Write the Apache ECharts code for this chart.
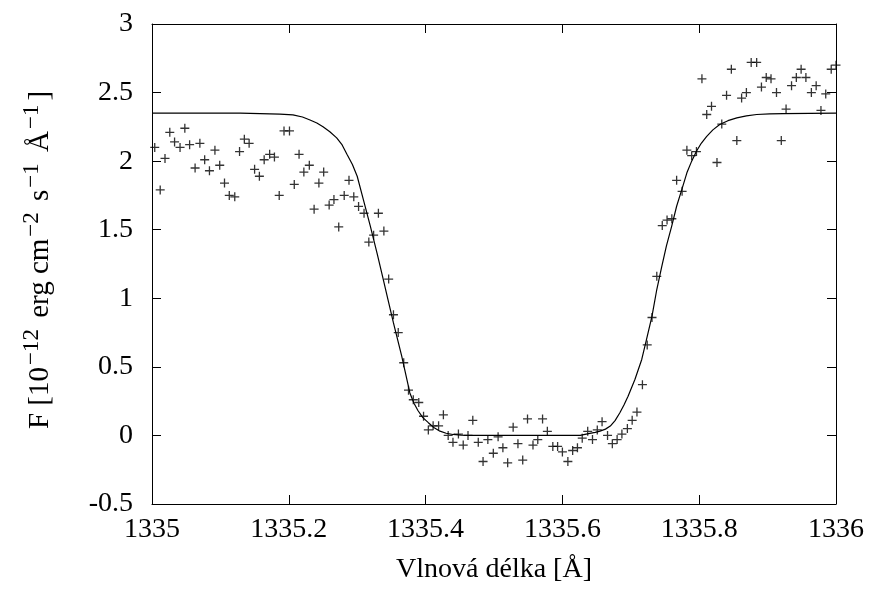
<!DOCTYPE html>
<html>
<head>
<meta charset="utf-8">
<script src="https://cdn.jsdelivr.net/npm/echarts@6/dist/echarts.min.js"></script>
<style>
  html, body { margin: 0; padding: 0; background: #fff; }
  #chart { width: 875px; height: 593px; }
</style>
</head>
<body>
<div id="chart"></div>
<script>
// Observed spectrum: wavelength grid [Å] and flux [1e-12 erg cm^-2 s^-1 Å^-1]
const wavelengths = [
  1335.004, 1335.012, 1335.019, 1335.026, 1335.033, 1335.041, 1335.048, 1335.055, 1335.063, 1335.070,
  1335.077, 1335.084, 1335.092, 1335.099, 1335.106, 1335.113, 1335.121, 1335.128, 1335.135, 1335.142,
  1335.150, 1335.157, 1335.164, 1335.172, 1335.179, 1335.186, 1335.193, 1335.201, 1335.208, 1335.215,
  1335.222, 1335.230, 1335.237, 1335.244, 1335.251, 1335.259, 1335.266, 1335.273, 1335.281, 1335.288,
  1335.295, 1335.302, 1335.310, 1335.317, 1335.324, 1335.331, 1335.339, 1335.346, 1335.353, 1335.360,
  1335.368, 1335.375, 1335.382, 1335.390, 1335.397, 1335.404, 1335.411, 1335.419, 1335.426, 1335.433,
  1335.440, 1335.448, 1335.455, 1335.462, 1335.469, 1335.477, 1335.484, 1335.491, 1335.499, 1335.506,
  1335.513, 1335.520, 1335.528, 1335.535, 1335.542, 1335.549, 1335.557, 1335.564, 1335.571, 1335.578,
  1335.586, 1335.593, 1335.600, 1335.608, 1335.615, 1335.622, 1335.629, 1335.637, 1335.644, 1335.651,
  1335.658, 1335.666, 1335.673, 1335.680, 1335.687, 1335.695, 1335.702, 1335.709, 1335.717, 1335.724,
  1335.731, 1335.738, 1335.746, 1335.753, 1335.760, 1335.767, 1335.775, 1335.782, 1335.789, 1335.796,
  1335.804, 1335.811, 1335.818, 1335.826, 1335.833, 1335.840, 1335.847, 1335.855, 1335.862, 1335.869,
  1335.876, 1335.884, 1335.891, 1335.898, 1335.905, 1335.913, 1335.920, 1335.927, 1335.935, 1335.942,
  1335.949, 1335.956, 1335.964, 1335.971, 1335.978, 1335.985, 1335.993, 1336.000
];
const fluxObserved = [
  2.10, 1.79, 2.02, 2.21, 2.14, 2.10, 2.24, 2.12, 1.95, 2.13,
  2.01, 1.93, 2.08, 1.97, 1.84, 1.75, 1.74, 2.07, 2.16, 2.13,
  1.94, 1.89, 2.01, 2.05, 2.03, 1.75, 2.22, 2.22, 1.83, 2.05,
  1.92, 1.97, 1.65, 1.84, 1.92, 1.68, 1.72, 1.52, 1.75, 1.86,
  1.74, 1.67, 1.62, 1.41, 1.46, 1.62, 1.49, 1.14, 0.88, 0.75,
  0.53, 0.33, 0.26, 0.24, 0.14, 0.04, 0.07, 0.07, 0.15, 0.00,
  -0.05, 0.01, -0.07, 0.00, 0.11, -0.05, -0.19, -0.03, -0.13, -0.01,
  -0.09, -0.20, 0.06, -0.06, -0.18, 0.12, -0.07, -0.03, 0.12, 0.03,
  -0.08, -0.08, -0.12, -0.19, -0.11, -0.09, -0.02, 0.03, -0.03, 0.04,
  0.10, 0.00, -0.06, -0.03, 0.01, 0.05, 0.11, 0.17, 0.37, 0.66,
  0.86, 1.16, 1.53, 1.57, 1.58, 1.86, 1.78, 2.08, 2.04, 2.07,
  2.60, 2.34, 2.40, 1.99, 2.27, 2.48, 2.67, 2.15, 2.46, 2.50,
  2.72, 2.72, 2.54, 2.61, 2.60, 2.50, 2.15, 2.38, 2.55, 2.61,
  2.67, 2.61, 2.50, 2.55, 2.37, 2.49, 2.67, 2.70
];

// Model profile of the absorption line
const modelWavelengths = [
  1335.000, 1335.129, 1335.158, 1335.187, 1335.206, 1335.220, 1335.231, 1335.241, 1335.250, 1335.260,
  1335.270, 1335.278, 1335.285, 1335.293, 1335.300, 1335.309, 1335.319, 1335.329, 1335.338, 1335.345,
  1335.353, 1335.365, 1335.377, 1335.383, 1335.389, 1335.396, 1335.404, 1335.412, 1335.421, 1335.430,
  1335.440, 1335.452, 1335.465, 1335.626, 1335.640, 1335.648, 1335.655, 1335.663, 1335.670, 1335.677,
  1335.684, 1335.690, 1335.696, 1335.706, 1335.716, 1335.723, 1335.731, 1335.738, 1335.745, 1335.752,
  1335.760, 1335.767, 1335.775, 1335.782, 1335.789, 1335.796, 1335.803, 1335.811, 1335.820, 1335.830,
  1335.842, 1335.855, 1335.869, 1335.884, 1335.903, 1335.923, 1336.000
];
const modelFlux = [
  2.350, 2.350, 2.347, 2.343, 2.337, 2.322, 2.300, 2.278, 2.250, 2.214,
  2.170, 2.118, 2.050, 1.975, 1.890, 1.720, 1.530, 1.330, 1.140, 0.990,
  0.820, 0.580, 0.310, 0.235, 0.180, 0.130, 0.093, 0.058, 0.031, 0.016,
  0.007, 0.002, 0.000, 0.000, 0.015, 0.022, 0.031, 0.046, 0.068, 0.108,
  0.165, 0.222, 0.286, 0.408, 0.554, 0.700, 0.870, 1.064, 1.225, 1.380,
  1.530, 1.671, 1.800, 1.915, 2.000, 2.072, 2.130, 2.180, 2.228, 2.267,
  2.295, 2.316, 2.330, 2.340, 2.345, 2.347, 2.350
];

const xTicks = { min: 1335, max: 1336, interval: 0.2 };
const yTicks = { min: -0.5, max: 3, interval: 0.5 };

const serif = "'Liberation Serif', 'Times New Roman', 'DejaVu Serif', serif";

const chart = echarts.init(document.getElementById('chart'), null, { renderer: 'canvas' });

const frameAxis = {
  axisLine: { show: true, onZero: false, lineStyle: { color: '#000', width: 1 } },
  axisTick: { show: true, inside: true, length: 9, lineStyle: { color: '#000', width: 1 } },
  splitLine: { show: false }
};

chart.setOption({
  backgroundColor: '#fff',
  animation: false,
  grid: { left: 152, right: 39, top: 24, bottom: 89, containLabel: false },
  xAxis: [
    Object.assign({
      type: 'value', position: 'bottom',
      min: xTicks.min, max: xTicks.max, interval: xTicks.interval,
      name: 'Vlnová délka [Å]', nameLocation: 'middle', nameGap: 52,
      nameTextStyle: { fontFamily: serif, fontSize: 28, color: '#000' },
      axisLabel: { show: true, margin: 12, fontFamily: serif, fontSize: 28, color: '#000',
        formatter: v => String(Math.round(v * 10) / 10) }
    }, frameAxis),
    Object.assign({
      type: 'value', position: 'top',
      min: xTicks.min, max: xTicks.max, interval: xTicks.interval,
      axisLabel: { show: false }
    }, frameAxis)
  ],
  yAxis: [
    Object.assign({
      type: 'value', position: 'left',
      min: yTicks.min, max: yTicks.max, interval: yTicks.interval,
      axisLabel: { show: true, margin: 19, fontFamily: serif, fontSize: 28, color: '#000',
        formatter: v => String(Math.round(v * 10) / 10) }
    }, frameAxis),
    Object.assign({
      type: 'value', position: 'right',
      min: yTicks.min, max: yTicks.max, interval: yTicks.interval,
      axisLabel: { show: false }
    }, frameAxis)
  ],
  graphic: [{
    type: 'text',
    rotation: Math.PI / 2,
    x: 40, y: 260,
    style: {
      text: '{n|F [10}{s|−12}{n| erg cm}{s|−2}{n| s}{s|−1}{n| Å}{s|−1}{n|]}',
      fill: '#000',
      align: 'center',
      verticalAlign: 'middle',
      rich: {
        n: { fontFamily: serif, fontSize: 29, lineHeight: 40, fill: '#000' },
        s: { fontFamily: serif, fontSize: 23, lineHeight: 40, verticalAlign: 'top', padding: [0, 4, 0, 2], fill: '#000' }
      }
    }
  }],
  series: [
    {
      type: 'scatter',
      xAxisIndex: 0, yAxisIndex: 0,
      symbol: 'path://M0,5L10,5M5,0L5,10',
      symbolSize: 9,
      itemStyle: { color: '#000', borderColor: '#000', borderWidth: 1.3 },
      data: wavelengths.map((w, i) => [w, fluxObserved[i]]),
      z: 3
    },
    {
      type: 'line',
      xAxisIndex: 0, yAxisIndex: 0,
      showSymbol: false,
      smooth: false,
      lineStyle: { color: '#000', width: 1.2 },
      data: modelWavelengths.map((w, i) => [w, modelFlux[i]]),
      z: 2
    }
  ]
});
</script>
</body>
</html>
